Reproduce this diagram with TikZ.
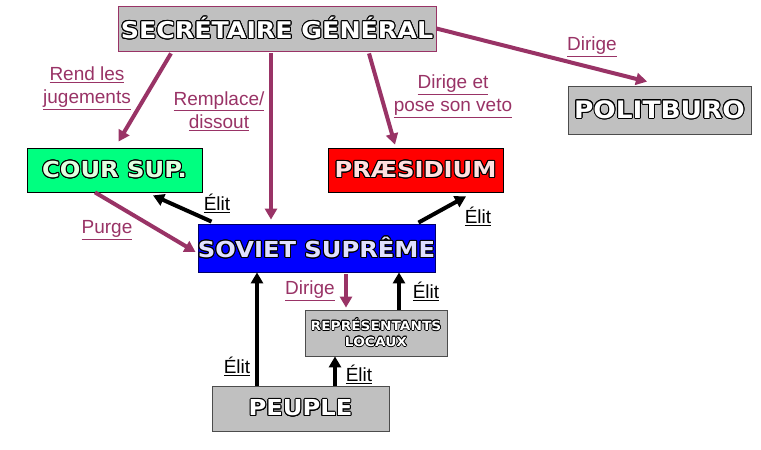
\documentclass[tikz,border=0pt]{standalone}
\usepackage{fontspec}
\setmainfont{Liberation Sans}
\newfontfamily\boxfont[FakeStretch=1.1]{DejaVu Sans}
\usepackage{contour}
\usetikzlibrary{arrows.meta}
\definecolor{plum}{RGB}{153,51,102}
\definecolor{sgray}{RGB}{192,192,192}
\definecolor{sgreen}{RGB}{0,255,128}
\newcommand{\outl}[2]{\textcolor{#1}{\contour{black}{#2}}}
\contourlength{1pt}

\begin{document}
\begin{tikzpicture}[x=1pt, y=-1pt,
  box/.style={draw=black, line width=0.8pt, inner sep=0pt, align=center,
    font=\boxfont\bfseries\fontsize{22}{24}\selectfont},
  parrow/.style={draw=plum, line width=4pt, -{Triangle[length=11pt,width=12pt]}},
  barrow/.style={draw=black, line width=4pt, -{Triangle[length=11pt,width=12pt]}},
  lab/.style={text=plum, inner sep=0pt, align=center, font=\fontsize{19}{23}\selectfont},
  elit/.style={text=black, inner sep=0pt, font=\fontsize{19}{23}\selectfont}]
\useasboundingbox (0,0) rectangle (761,450);
\fill[white] (0,0) rectangle (761,450);

% boxes
\node[box, fill=sgray, draw=plum, minimum width=318pt, minimum height=45pt,
  font=\boxfont\bfseries\fontsize{23}{24}\selectfont] (sg) at (277,28.5) {\outl{white}{SECRÉTAIRE GÉNÉRAL}};
\node[box, fill=sgreen, minimum width=175pt, minimum height=44pt] (cour) at (114.5,170) {\outl{green!12}{COUR SUP.}};
\node[box, fill=red, minimum width=175pt, minimum height=44pt] (praes) at (415.5,170) {\outl{red!12}{PRÆSIDIUM}};
\node[box, fill=blue, draw=blue!40!black, minimum width=237pt, minimum height=48pt] (soviet) at (316.5,248) {\outl{blue!12}{SOVIET SUPRÊME}};
\node[box, fill=sgray, draw=black!70, minimum width=183pt, minimum height=48pt,
  font=\boxfont\bfseries\fontsize{24}{24}\selectfont] (polit) at (659.5,110) {\outl{white}{POLITBURO}};
\node[box, fill=sgray, draw=black!70, minimum width=142pt, minimum height=46pt,
  font=\boxfont\bfseries\fontsize{12.5}{16}\selectfont] (reps) at (376,333) {\contourlength{0.6pt}\outl{white}{REPRÉSENTANTS}\\\contourlength{0.6pt}\outl{white}{LOCAUX}};
\node[box, fill=sgray, draw=black!70, minimum width=177pt, minimum height=45pt] (peuple) at (300.5,408.5) {\outl{white}{PEUPLE}};

% secretaire general
\draw[parrow] ([xshift=-106pt,yshift=-2pt]sg.south) -- ([xshift=4pt,yshift=6pt]cour.north);
\draw[parrow] ([xshift=-6pt,yshift=-2pt]sg.south) -- ([xshift=-45.5pt,yshift=4pt]soviet.north);
\draw[parrow] ([xshift=92pt,yshift=-2pt]sg.south) -- ([xshift=-20.5pt,yshift=3pt]praes.north);
\draw[parrow] (sg.east) -- ([xshift=-12.5pt,yshift=4pt]polit.north);
\draw[parrow] ([xshift=-19.5pt]cour.south) -- ([xshift=-2pt,yshift=-4pt]soviet.west);
\draw[parrow] ([xshift=29.5pt,yshift=-2pt]soviet.south) -- ([xshift=-30pt,yshift=2pt]reps.north);

% elections
\draw[barrow] ([xshift=14pt,yshift=2pt]soviet.north west) -- ([xshift=38.5pt,yshift=-3pt]cour.south);
\draw[barrow] ([xshift=-17pt,yshift=1pt]soviet.north east) -- ([xshift=50.5pt,yshift=-4pt]praes.south);
\draw[barrow] ([xshift=-43.5pt]peuple.north) -- ([xshift=-59.5pt]soviet.south);
\draw[barrow] ([xshift=34.5pt]peuple.north) -- ([xshift=-41pt]reps.south);
\draw[barrow] ([xshift=23pt]reps.north) -- ([xshift=82.5pt]soviet.south);

% labels
\node[lab] (lrend) at (87,88) {\underline{Rend les}\\\underline{jugements}};
\node[lab] (lremp) at (219,111) {\underline{Remplace/}\\\underline{dissout}};
\node[lab] (lveto) at (453,96) {\underline{Dirige et}\\\underline{pose son veto}};
\node[lab] (ldir) at (592,47) {\underline{Dirige}};
\node[lab] (lpurge) at (107,230) {\underline{Purge}};
\node[lab] (lloc) at (310,291) {\underline{Dirige}};
\foreach \n/\px/\py in {a/217/203, b/478/216, c/237/366, d/359/374, e/426/291}
  \node[elit] (elit\n) at (\px,\py) {\underline{Élit}};
\end{tikzpicture}
\end{document}
